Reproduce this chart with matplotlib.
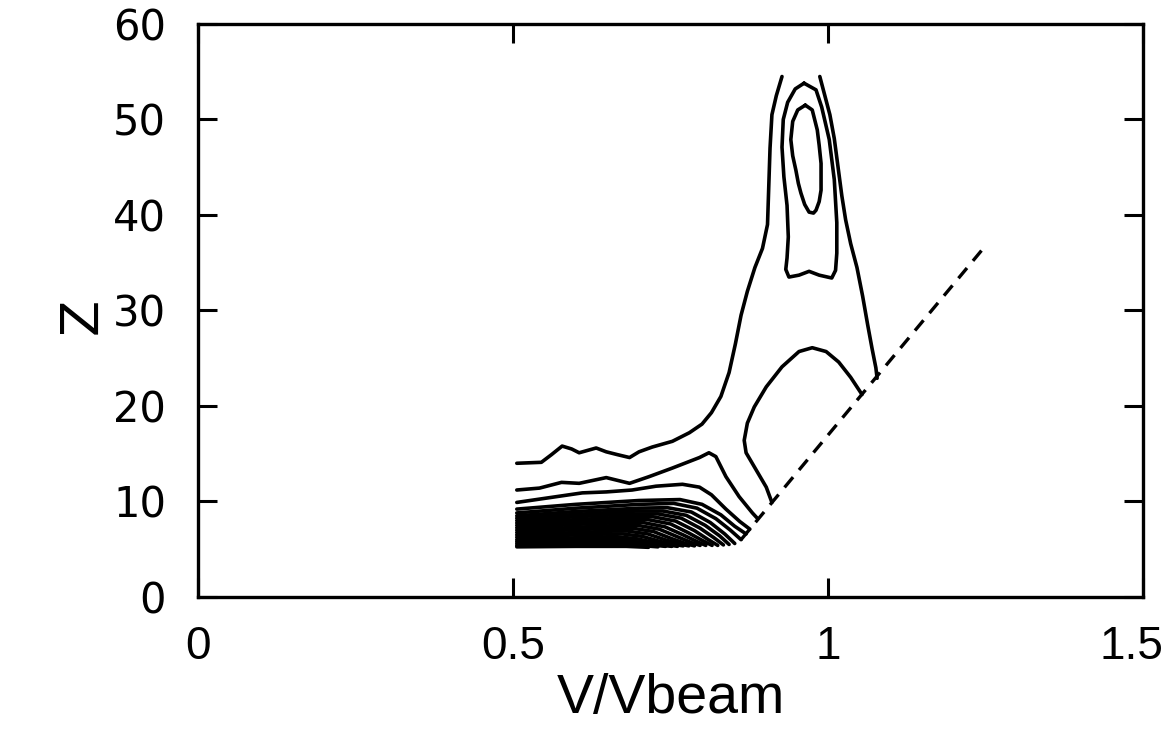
import matplotlib
matplotlib.use('Agg')
import matplotlib.pyplot as plt
import matplotlib.transforms as mtransforms

# contour traces in (V/Vbeam, Z)
# outer contour, left side: low shelf then up the left flank of the plume
outer_left_x = [0.506, 0.545, 0.561, 0.578, 0.593, 0.605, 0.632, 0.648, 0.666, 0.685, 0.700, 0.721,
                0.753, 0.780, 0.800, 0.815, 0.830, 0.843, 0.853, 0.862, 0.872, 0.884, 0.896, 0.904,
                0.906, 0.908, 0.911, 0.918, 0.927]
outer_left_y = [14.0, 14.1, 14.9, 15.8, 15.5, 15.1, 15.6, 15.2, 14.9, 14.6, 15.2, 15.7,
                16.3, 17.2, 18.1, 19.3, 21.0, 23.5, 26.5, 29.5, 32.0, 34.5, 36.5, 39.0,
                43.0, 47.0, 50.5, 52.5, 54.5]
# outer contour, right flank ending on the cutoff line
outer_right_x = [0.987, 0.995, 1.003, 1.010, 1.016, 1.022, 1.028, 1.036, 1.046, 1.055, 1.063,
                 1.070, 1.076, 1.078]
outer_right_y = [54.5, 52.5, 50.5, 48.0, 45.0, 42.0, 39.5, 37.0, 34.5, 31.5, 28.5,
                 26.0, 24.0, 22.9]

# closed contour around the peak
ring_x = [0.962, 0.948, 0.936, 0.929, 0.927, 0.930, 0.935, 0.937, 0.935, 0.933, 0.938, 0.954,
          0.970, 0.986, 1.006, 1.012, 1.014, 1.014, 1.010, 1.002, 0.990, 0.981, 0.962]
ring_y = [53.8, 53.2, 51.8, 50.0, 47.1, 44.0, 41.0, 37.7, 35.5, 34.3, 33.5, 33.7,
          34.1, 33.7, 33.4, 34.2, 36.0, 39.2, 43.7, 47.9, 51.3, 53.1, 53.8]

# innermost peak contour
peak_x = [0.964, 0.952, 0.944, 0.941, 0.944, 0.949, 0.953, 0.957, 0.963, 0.970, 0.977, 0.981,
          0.986, 0.989, 0.989, 0.986, 0.983, 0.975, 0.964]
peak_y = [51.5, 51.0, 49.8, 47.9, 46.2, 44.7, 43.3, 42.3, 41.1, 40.3, 40.2, 40.5,
          41.4, 42.6, 45.4, 47.3, 48.9, 51.0, 51.5]

# arch below the plume
arch_x = [0.911, 0.902, 0.886, 0.870, 0.867, 0.872, 0.883, 0.902, 0.927, 0.954, 0.975, 0.997,
          1.017, 1.036, 1.049, 1.054]
arch_y = [9.9, 11.5, 13.3, 15.1, 16.4, 18.2, 19.9, 22.0, 24.1, 25.7, 26.1, 25.7,
          24.6, 23.0, 21.7, 21.2]

# second shelf contour with its knee
shelf_x = [0.506, 0.542, 0.577, 0.605, 0.648, 0.685, 0.716, 0.753, 0.796, 0.811, 0.822, 0.838,
           0.859, 0.880, 0.887]
shelf_y = [11.2, 11.4, 12.0, 11.9, 12.5, 11.9, 12.6, 13.5, 14.6, 15.1, 14.7, 12.6,
           10.5, 8.8, 8.3]

# packed contours of the low-Z core
core_x = [
    [0.506, 0.558, 0.610, 0.648, 0.689, 0.727, 0.769, 0.796, 0.815, 0.838, 0.860, 0.876],
    [0.506, 0.600, 0.700, 0.765, 0.800, 0.830, 0.852, 0.870],
    [0.506, 0.600, 0.700, 0.755, 0.792, 0.822, 0.845, 0.862],
    [0.506, 0.600, 0.700, 0.745, 0.783, 0.813, 0.836, 0.852],
    [0.506, 0.600, 0.695, 0.738, 0.775, 0.805, 0.828, 0.843],
    [0.506, 0.600, 0.690, 0.730, 0.767, 0.797, 0.819, 0.834],
    [0.506, 0.600, 0.685, 0.722, 0.758, 0.788, 0.810, 0.825],
    [0.506, 0.600, 0.680, 0.714, 0.750, 0.779, 0.801, 0.816],
    [0.506, 0.600, 0.675, 0.706, 0.741, 0.770, 0.792, 0.806],
    [0.506, 0.600, 0.670, 0.698, 0.732, 0.761, 0.783, 0.797],
    [0.506, 0.600, 0.665, 0.690, 0.723, 0.752, 0.774, 0.788],
    [0.506, 0.600, 0.660, 0.682, 0.714, 0.743, 0.765, 0.779],
    [0.506, 0.600, 0.655, 0.674, 0.705, 0.734, 0.756, 0.770],
    [0.506, 0.600, 0.650, 0.666, 0.696, 0.725, 0.747, 0.761],
    [0.506, 0.600, 0.645, 0.658, 0.687, 0.716, 0.738, 0.752],
    [0.506, 0.600, 0.650, 0.690, 0.720, 0.742],
    [0.506, 0.600, 0.660, 0.700, 0.730],
    [0.506, 0.600, 0.680, 0.715],
]
core_y = [
    [9.9, 10.4, 10.9, 11.0, 11.2, 11.6, 11.8, 11.5, 10.7, 9.2, 7.9, 7.1],
    [9.2, 9.7, 10.1, 10.2, 9.7, 8.6, 7.4, 6.6],
    [8.8, 9.3, 9.7, 9.8, 9.3, 8.2, 7.0, 6.0],
    [8.5, 8.95, 9.3, 9.35, 8.9, 7.8, 6.6, 5.6],
    [8.25, 8.65, 9.0, 9.0, 8.55, 7.5, 6.4, 5.5],
    [8.0, 8.4, 8.7, 8.7, 8.25, 7.2, 6.2, 5.45],
    [7.75, 8.1, 8.4, 8.4, 7.95, 6.95, 6.0, 5.4],
    [7.5, 7.85, 8.1, 8.1, 7.65, 6.7, 5.9, 5.4],
    [7.25, 7.6, 7.8, 7.8, 7.35, 6.5, 5.8, 5.4],
    [7.0, 7.3, 7.5, 7.5, 7.1, 6.3, 5.7, 5.4],
    [6.75, 7.05, 7.2, 7.2, 6.85, 6.1, 5.6, 5.35],
    [6.5, 6.75, 6.9, 6.9, 6.6, 5.95, 5.55, 5.35],
    [6.25, 6.5, 6.6, 6.6, 6.35, 5.8, 5.5, 5.35],
    [6.0, 6.2, 6.3, 6.3, 6.1, 5.7, 5.45, 5.3],
    [5.8, 6.0, 6.05, 6.05, 5.9, 5.55, 5.4, 5.3],
    [5.6, 5.75, 5.8, 5.7, 5.45, 5.3],
    [5.4, 5.5, 5.5, 5.4, 5.25],
    [5.25, 5.3, 5.3, 5.2],
]

# dashed cutoff line
cutoff_x = [0.862, 1.244]
cutoff_y = [6.0, 36.3]

x_ticks = [0, 0.5, 1, 1.5]
x_labels = ['0', '0.5', '1', '1.5']
y_ticks = [0, 10, 20, 30, 40, 50, 60]

plt.rcParams['font.family'] = ['Liberation Sans', 'DejaVu Sans']

fig = plt.figure(figsize=(11.67, 7.45), dpi=100)
ax = fig.add_axes([0.1697, 0.1987, 0.8097, 0.7691])

kw = dict(color='black', lw=2.6, solid_joinstyle='round', solid_capstyle='round')
ax.plot(outer_left_x, outer_left_y, **kw)
ax.plot(outer_right_x, outer_right_y, **kw)
ax.plot(ring_x, ring_y, **kw)
ax.plot(peak_x, peak_y, **kw)
ax.plot(arch_x, arch_y, **kw)
ax.plot(shelf_x, shelf_y, **kw)
for cx, cy in zip(core_x, core_y):
    ax.plot(cx, cy, **kw)
ax.plot(cutoff_x, cutoff_y, color='black', lw=2.4, dashes=(4, 2.8))

ax.set_xlim(0, 1.5)
ax.set_ylim(0, 60)
ax.set_xticks(x_ticks)
ax.set_xticklabels(x_labels)
ax.set_yticks(y_ticks)
ax.set_yticklabels([str(v) for v in y_ticks], family='DejaVu Sans')
ax.tick_params(direction='in', length=14, width=2.2, top=True, right=True)
ax.tick_params(axis='y', labelsize=30, pad=23)
ax.tick_params(axis='x', labelsize=33, pad=20)
for s in ax.spines.values():
    s.set_linewidth(2.4)

# last x label sits a little inside the frame edge
last = ax.get_xticklabels()[-1]
last.set_transform(last.get_transform() + mtransforms.ScaledTranslation(-12 / 100, 0, fig.dpi_scale_trans))

ax.set_xlabel('V/Vbeam', fontsize=40, labelpad=3)
ax.set_ylabel('Z', fontsize=38, family='DejaVu Sans')
ax.yaxis.set_label_coords(-0.095, 0.49)

fig.savefig('out.png', dpi=100)
